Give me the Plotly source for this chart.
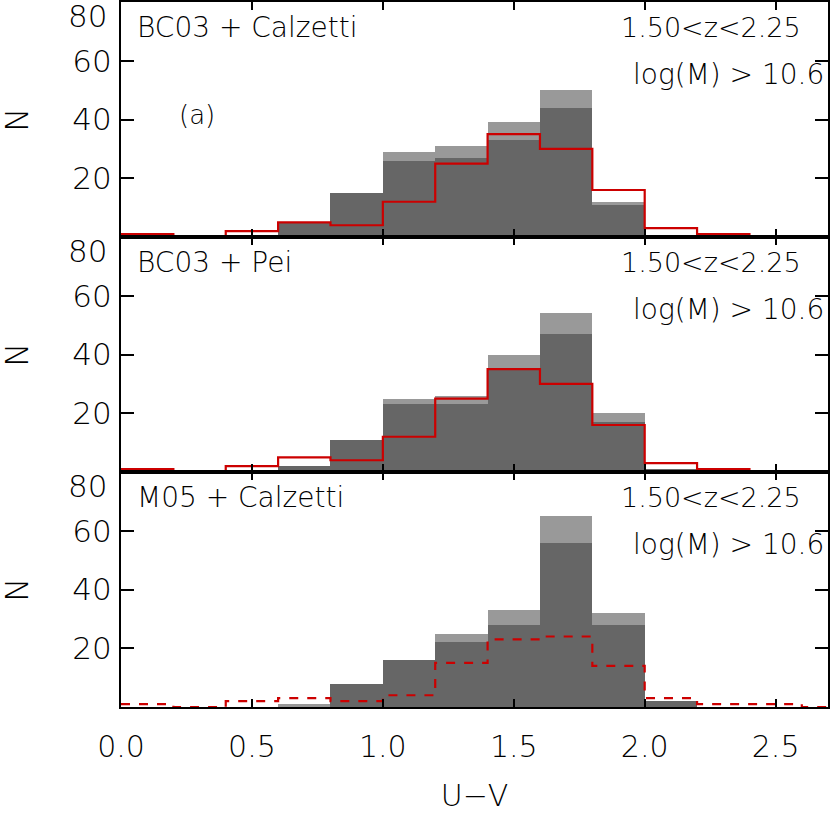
import plotly.graph_objects as go
from plotly.subplots import make_subplots

# U-V bins, width 0.2 starting at 0
bin_left = [0.0, 0.2, 0.4, 0.6, 0.8, 1.0, 1.2, 1.4, 1.6, 1.8, 2.0, 2.2, 2.4, 2.6]
bin_width = 0.2

# panel (a): BC03 + Calzetti
total_a = [0, 0, 0, 5, 15, 29, 31, 39, 50, 12, 0, 0, 0, 0]
sub_a = [0, 0, 0, 5, 15, 26, 27, 33, 44, 11, 0, 0, 0, 0]
red_a = [1, 0, 2, 5, 4, 12, 25, 35, 30, 16, 3, 1, 0, 0]

# panel (b): BC03 + Pei
total_b = [0, 0, 0, 2, 11, 25, 26, 40, 54, 20, 1, 0, 0, 0]
sub_b = [0, 0, 0, 2, 11, 23, 23, 35, 47, 17, 1, 0, 0, 0]
red_b = [1, 0, 2, 5, 4, 12, 25, 35, 30, 16, 3, 1, 0, 0]

# panel (c): M05 + Calzetti
total_c = [0, 0, 0, 1, 8, 16, 25, 33, 65, 32, 2, 0, 0, 0]
sub_c = [0, 0, 0, 0, 8, 16, 22, 28, 56, 28, 2, 0, 0, 0]
red_c = [1, 0, 2, 3, 2, 4, 15, 23, 24, 14, 3, 1, 1, 0]

panel_labels = ["BC03 + Calzetti", "BC03 + Pei", "M05 + Calzetti"]
z_label = "1.50<z<2.25"
mass_label = "log(M) > 10.6"
x_ticks = [0.0, 0.5, 1.0, 1.5, 2.0, 2.5]
x_ticktext = ["0.0", "0.5", "1.0", "1.5", "2.0", "2.5"]
y_ticks = [20, 40, 60]

FONT = "DejaVu Sans"
LIGHT = "#999999"
DARK = "#666666"
RED = "#cc0000"


def font(size):
    return dict(family=FONT, size=size, color="black", weight=200)


fig = make_subplots(rows=3, cols=1, shared_xaxes=True, vertical_spacing=0)

panels = [(total_a, sub_a, red_a, "solid"),
          (total_b, sub_b, red_b, "solid"),
          (total_c, sub_c, red_c, "dash")]

centers = [b + bin_width / 2 for b in bin_left]
step_x = bin_left + [bin_left[-1] + bin_width]

for i, (tot, sub, red, dash) in enumerate(panels):
    row = i + 1
    fig.add_trace(go.Bar(x=centers, y=tot, width=bin_width, marker_color=LIGHT,
                         marker_line_width=0, showlegend=False), row=row, col=1)
    fig.add_trace(go.Bar(x=centers, y=sub, width=bin_width, marker_color=DARK,
                         marker_line_width=0, showlegend=False), row=row, col=1)
    fig.add_trace(go.Scatter(x=step_x, y=red + [red[-1]], mode="lines", line_shape="hv",
                             line=dict(color=RED, width=2.2, dash=dash),
                             showlegend=False), row=row, col=1)

fig.update_layout(barmode="overlay", bargap=0)

for i in range(3):
    row = i + 1
    fig.update_xaxes(range=[0, 2.7], tickvals=x_ticks, ticktext=x_ticktext,
                     ticks="inside", ticklen=8, tickwidth=2, tickcolor="black",
                     showline=True, linecolor="black", linewidth=2, mirror="ticks",
                     showgrid=False, zeroline=False, automargin=False,
                     tickfont=font(30), row=row, col=1)
    fig.update_yaxes(range=[0, 80], tickvals=y_ticks,
                     ticks="inside", ticklen=13, tickwidth=2, tickcolor="black",
                     showline=True, linecolor="black", linewidth=2, mirror="ticks",
                     showgrid=False, zeroline=False, ticklabelstandoff=1,
                     automargin=False, tickfont=font(31), row=row, col=1)

fig.update_xaxes(ticklabelstandoff=12, row=3, col=1)
fig.update_xaxes(title=dict(text="U−V", font=font(30), standoff=27), row=3, col=1)

annotations = []
for i in range(3):
    xr = "x domain" if i == 0 else f"x{i + 1} domain"
    yr = "y domain" if i == 0 else f"y{i + 1} domain"
    yref_data = "y" if i == 0 else f"y{i + 1}"
    annotations.append(dict(x=0.02, y=0.89, xref=xr, yref=yr, text=panel_labels[i],
                            xanchor="left", yanchor="middle", showarrow=False,
                            font=font(28)))
    annotations.append(dict(x=0.965, y=0.89, xref=xr, yref=yr, text=z_label,
                            xanchor="right", yanchor="middle", showarrow=False,
                            font=font(27)))
    annotations.append(dict(x=0.997, y=0.69, xref=xr, yref=yr, text=mass_label,
                            xanchor="right", yanchor="middle", showarrow=False,
                            font=font(28)))
    # "80" sits just below the top edge of each panel
    annotations.append(dict(x=0, y=80, xref=xr, yref=yref_data, text="80",
                            xanchor="right", yanchor="top", xshift=-12, yshift=6,
                            showarrow=False, font=font(31)))
    annotations.append(dict(x=-0.148, y=0.5, xref=xr, yref=yr, text="N", textangle=-90,
                            xanchor="center", yanchor="middle", showarrow=False,
                            font=font(32)))

annotations.append(dict(x=0.107, y=0.52, xref="x domain", yref="y domain", text="(a)",
                        xanchor="center", yanchor="middle", showarrow=False,
                        font=font(26)))

fig.update_layout(
    width=831, height=813,
    margin=dict(l=121, r=3, t=2, b=106),
    paper_bgcolor="white", plot_bgcolor="white",
    annotations=annotations,
)

# drop the page's default body margin so the figure sits at the window corner
fig.write_html("out.html", config={"displayModeBar": False},
               post_script="document.body.style.margin='0';")
